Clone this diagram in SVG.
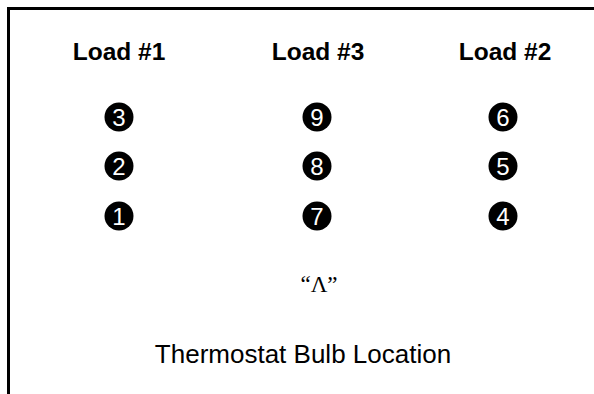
<svg xmlns="http://www.w3.org/2000/svg" width="594" height="394" viewBox="0 0 594 394">
<style>
.frame{fill:none;stroke:#000;stroke-width:3}
.hdr{font-family:"Liberation Sans",Arial,sans-serif;font-weight:bold;font-size:24.5px;fill:#000;text-anchor:middle}
.dot{fill:#000}
.num{font-family:"Liberation Sans",Arial,sans-serif;font-size:24px;fill:#fff;text-anchor:middle}
.lbl{font-family:"Liberation Sans",Arial,sans-serif;font-size:26px;fill:#000;text-anchor:middle}
.sym{font-family:"Liberation Serif","Times New Roman",serif;font-size:23px;fill:#000;text-anchor:middle}
</style>
<path class="frame" d="M8.5,394 V8.5 H594"/>
<g id="load1">
<text class="hdr" x="119" y="60">Load #1</text>
<g id="n3"><circle class="dot" cx="119" cy="117" r="14.5"/><text class="num" x="119" y="125.5">3</text></g>
<g id="n2"><circle class="dot" cx="119" cy="166" r="14.5"/><text class="num" x="119" y="174.5">2</text></g>
<g id="n1"><circle class="dot" cx="119" cy="216" r="14.5"/><text class="num" x="119" y="224.5">1</text></g>
</g>
<g id="load3">
<text class="hdr" x="318" y="60">Load #3</text>
<g id="n9"><circle class="dot" cx="317" cy="117" r="14.5"/><text class="num" x="317" y="125.5">9</text></g>
<g id="n8"><circle class="dot" cx="317" cy="166" r="14.5"/><text class="num" x="317" y="174.5">8</text></g>
<g id="n7"><circle class="dot" cx="317" cy="216" r="14.5"/><text class="num" x="317" y="224.5">7</text></g>
</g>
<g id="load2">
<text class="hdr" x="505" y="60">Load #2</text>
<g id="n6"><circle class="dot" cx="503" cy="117" r="14.5"/><text class="num" x="503" y="125.5">6</text></g>
<g id="n5"><circle class="dot" cx="503" cy="166" r="14.5"/><text class="num" x="503" y="174.5">5</text></g>
<g id="n4"><circle class="dot" cx="503" cy="216" r="14.5"/><text class="num" x="503" y="224.5">4</text></g>
</g>
<g id="bulb">
<text class="sym" x="319" y="292">“Λ”</text>
<text class="lbl" x="303" y="363">Thermostat Bulb Location</text>
</g>
</svg>
